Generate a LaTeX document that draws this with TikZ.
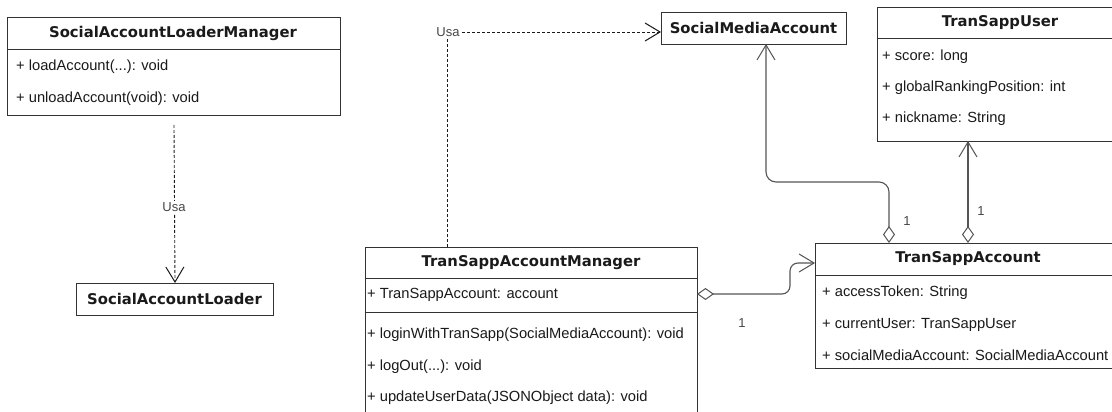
\documentclass[tikz,border=0pt]{standalone}
\usepackage{fontspec}
\setmainfont{Liberation Sans}
\newfontfamily\headfont{DejaVu Sans}[BoldFont={DejaVu Sans Bold}]
\usetikzlibrary{arrows.meta}
\definecolor{umlline}{HTML}{333333}
\definecolor{umltext}{HTML}{1A1A1A}
\definecolor{linkline}{HTML}{555555}
\tikzset{
  x=1pt, y=-1pt,
  classbox/.style={draw=umlline, line width=1pt, fill=white, rectangle, anchor=north west, inner sep=0pt},
  headtext/.style={font=\headfont\bfseries\fontsize{14.8}{16}\selectfont, text=umltext, inner sep=0pt},
  itemtext/.style={font=\fontsize{14.7}{16}\selectfont, text=umltext, anchor=west, inner sep=0pt},
  lbl/.style={font=\fontsize{13}{15}\selectfont, text=umlline!90, inner sep=1pt},
  vtip/.tip={Straight Barb[length=15pt, width=18pt, line width=1pt]},
  dtip/.tip={Diamond[open, length=17pt, width=12pt, line width=1pt]},
  uses/.style={draw=umltext, line width=0.9pt, dash pattern=on 3pt off 2pt, -vtip},
  aggr/.style={draw=linkline, line width=1.1pt, rounded corners=10pt, dtip-vtip},
}
\begin{document}
\begin{tikzpicture}
\clip (0,0) rectangle (1112,412);
\fill[white] (0,0) rectangle (1112,412);

% SocialAccountLoaderManager
\node[classbox, minimum width=333pt, minimum height=98pt] (salm) at (7,17) {};
\draw[umlline, line width=1pt] (7,50) -- (340,50);
\node[headtext] (salmH) at (173,33) {SocialAccountLoaderManager};
\node[itemtext] (salm1) at (16,67) {+ loadAccount(...): void};
\node[itemtext] (salm2) at (16,99) {+ unloadAccount(void): void};

% SocialAccountLoader
\node[classbox, minimum width=197pt, minimum height=32pt] (sal) at (76,283) {};
\node[headtext] (salH) at (174.5,299) {SocialAccountLoader};

% SocialMediaAccount
\node[classbox, minimum width=185pt, minimum height=32pt] (sma) at (661,12) {};
\node[headtext] (smaH) at (753.5,28) {SocialMediaAccount};

% TranSappUser
\node[classbox, minimum width=246pt, minimum height=134pt] (tsu) at (877,7) {};
\draw[umlline, line width=1pt] (877,39) -- (1123,39);
\node[headtext] (tsuH) at (1000,23) {TranSappUser};
\node[itemtext] (tsu1) at (882,57) {+ score: long};
\node[itemtext] (tsu2) at (882,88) {+ globalRankingPosition: int};
\node[itemtext] (tsu3) at (882,119) {+ nickname: String};

% TranSappAccount
\node[classbox, minimum width=307pt, minimum height=125pt] (tsa) at (815,243) {};
\draw[umlline, line width=1pt] (815,275) -- (1122,275);
\node[headtext] (tsaH) at (968,259) {TranSappAccount};
\node[itemtext] (tsa1) at (822,293) {+ accessToken: String};
\node[itemtext] (tsa2) at (822,325) {+ currentUser: TranSappUser};
\node[itemtext] (tsa3) at (822,355) {+ socialMediaAccount: SocialMediaAccount};

% TranSappAccountManager
\node[classbox, minimum width=332pt, minimum height=185pt] (tsam) at (365,247) {};
\draw[umlline, line width=1pt] (365,278) -- (697,278);
\draw[umlline, line width=1pt] (365,312) -- (697,312);
\node[headtext] (tsamH) at (531,263) {TranSappAccountManager};
\node[itemtext] (tsam1) at (367,295) {+ TranSappAccount: account};
\node[itemtext] (tsam2) at (367,335) {+ loginWithTranSapp(SocialMediaAccount): void};
\node[itemtext] (tsam3) at (367,367) {+ logOut(...): void};
\node[itemtext] (tsam4) at (367,398) {+ updateUserData(JSONObject data): void};

% dependencies
\coordinate (salmUse) at (174,125);
\draw[uses] (salmUse) -- (sal.north);
\node[lbl, fill=white] (usa1) at (174,207) {Usa};

\coordinate (tsamTop) at (447,247);
\coordinate (useCorner) at (447,32);
\draw[uses] (tsamTop) -- (useCorner) -- (sma.west |- useCorner);
\node[lbl, fill=white] (usa2) at (448,32) {Usa};

% aggregations
\coordinate (tsaA) at (889,243);
\draw[aggr] (tsaA) -- (889,182) -- (766,182) -- (766,44);
\node[lbl] (m1) at (907,221) {1};

\coordinate (tsaB) at (968,243);
\draw[aggr, rounded corners=0pt] (tsaB) -- (968,141);
\node[lbl] (m2) at (981,211) {1};

\coordinate (tsamR) at (697,294);
\coordinate (tsaL) at (815,263);
\draw[aggr, rounded corners=8pt] (tsamR) -- (790,294) -- (790,263) -- (tsaL);
\node[lbl] (m3) at (742,323) {1};
\end{tikzpicture}
\end{document}
